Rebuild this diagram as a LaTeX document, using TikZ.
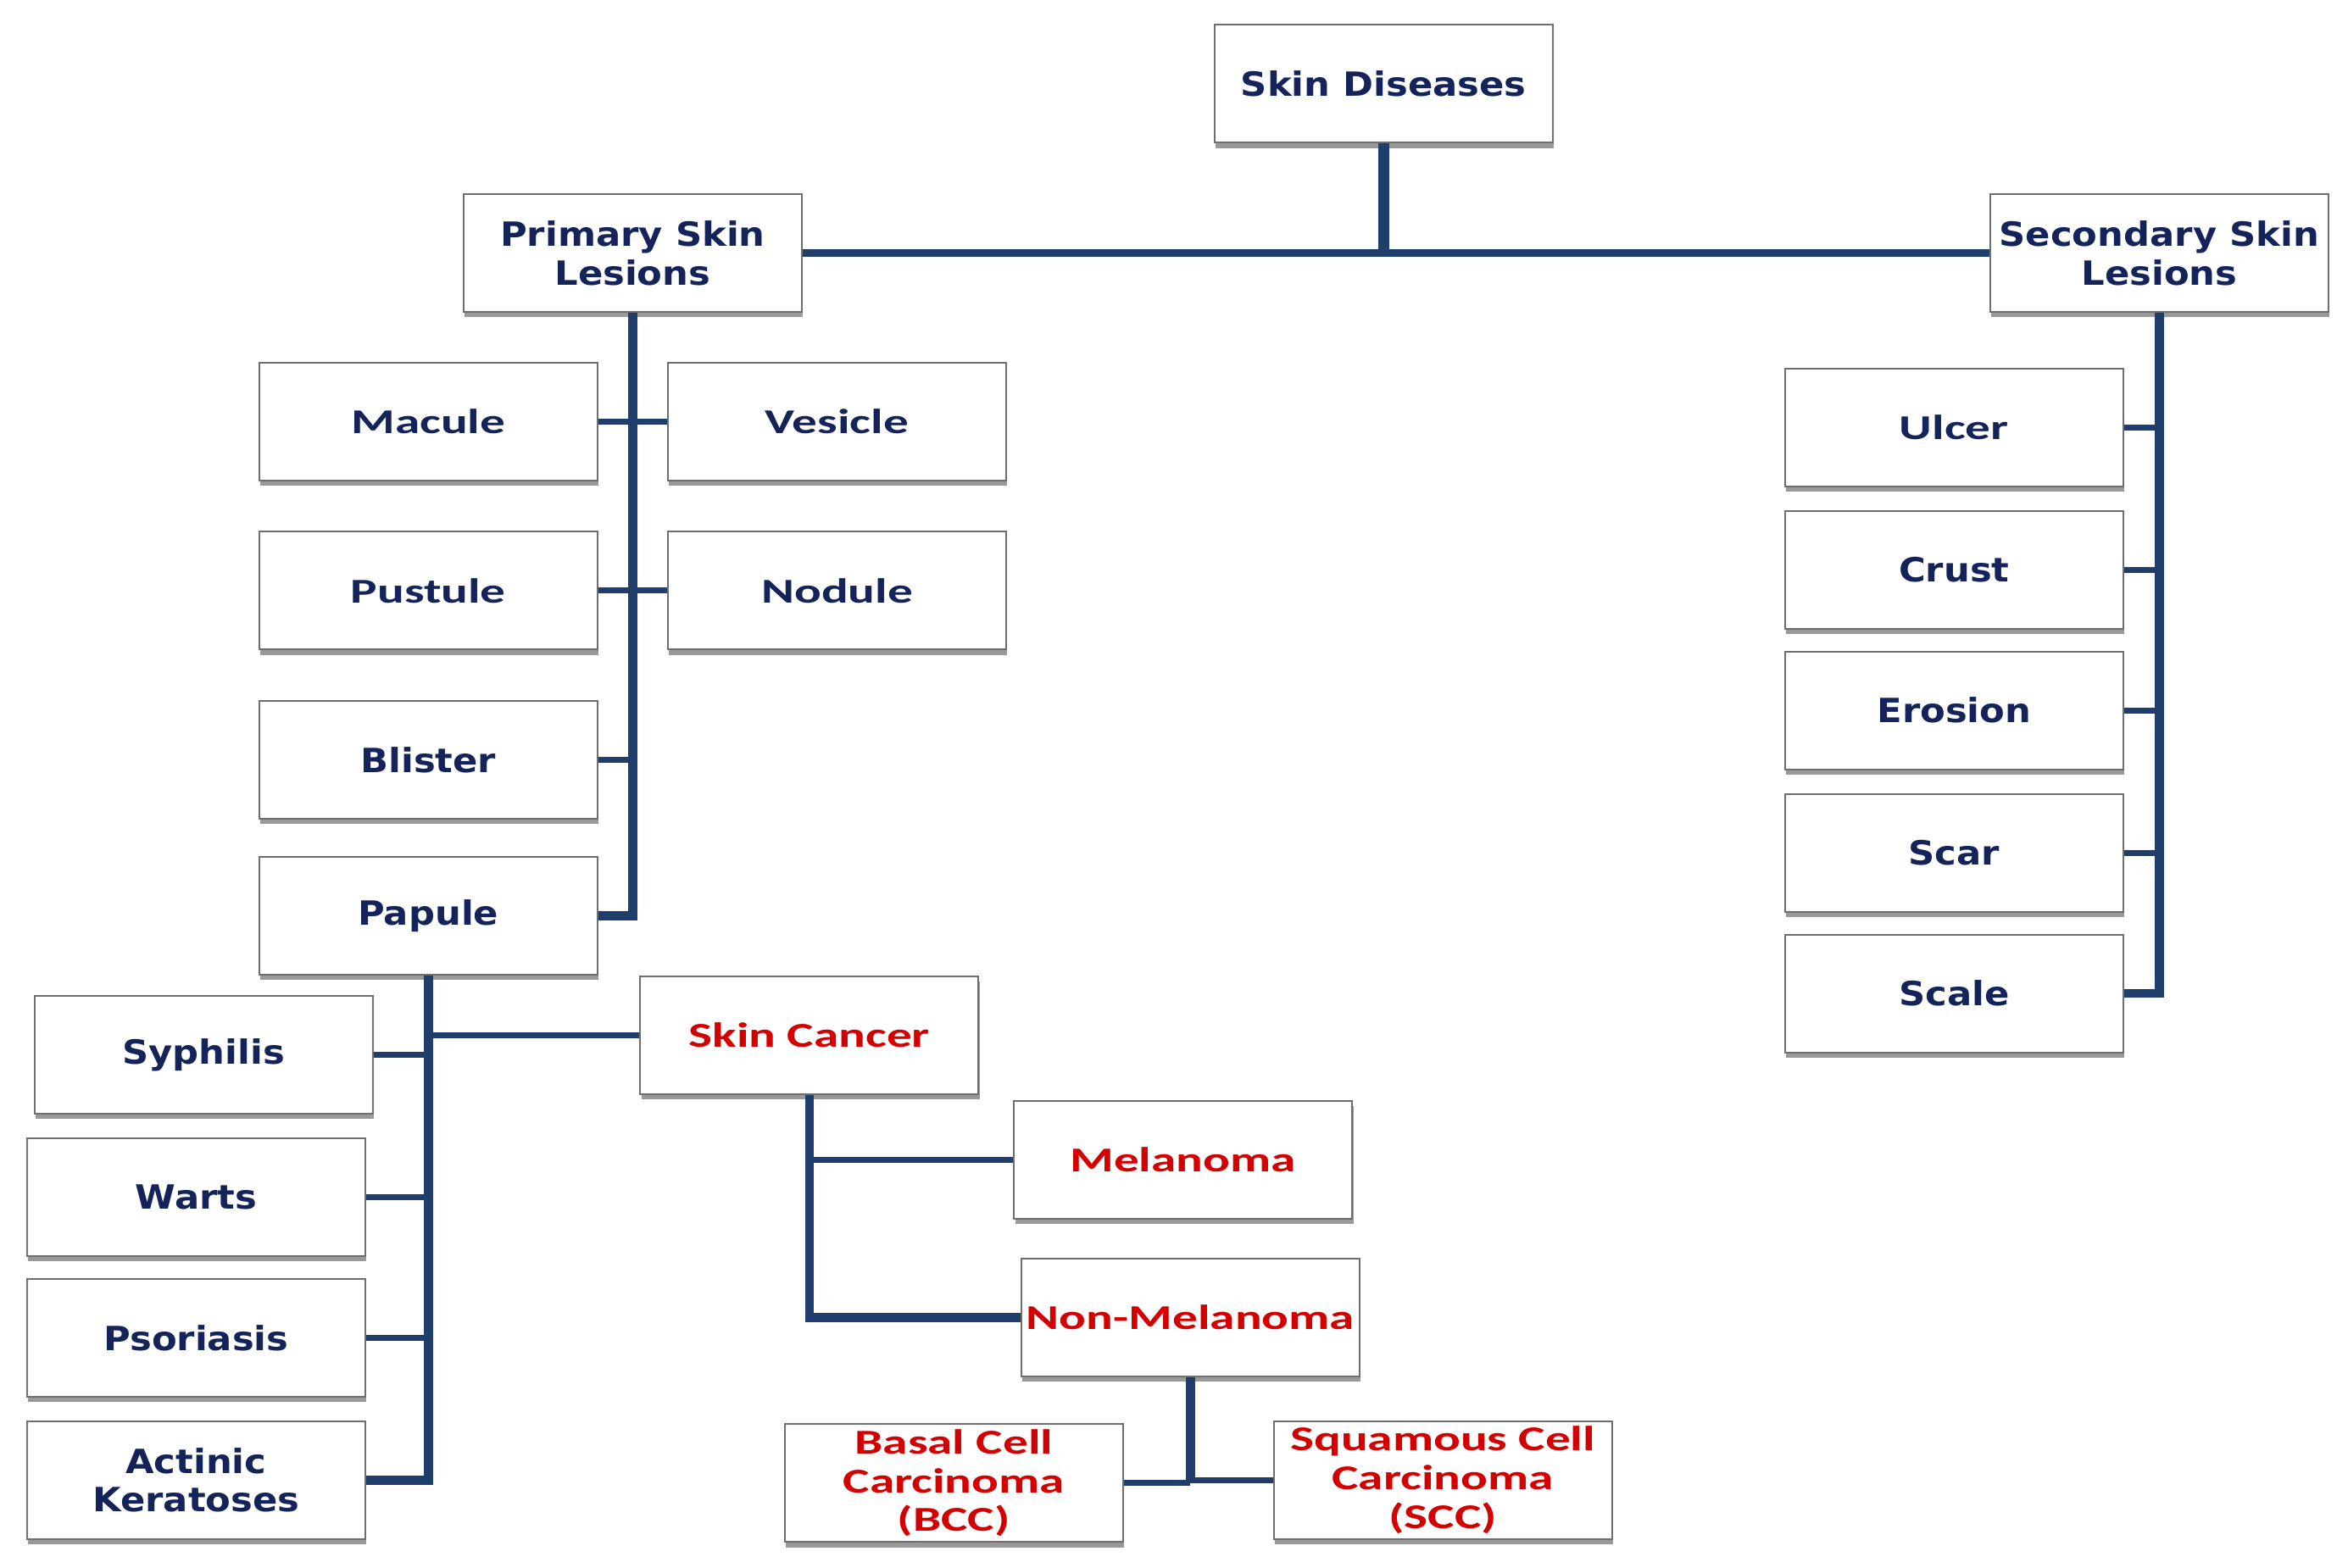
\documentclass[tikz,border=0pt]{standalone}
\usepackage{fontspec}
\usetikzlibrary{shadows}
\newfontfamily\vfont[FakeStretch=1.1]{DejaVu Sans}
\newfontfamily\cfont[FakeStretch=1.44]{Carlito}
\definecolor{navy}{HTML}{14245A}
\definecolor{redtxt}{HTML}{D40000}
\definecolor{linec}{HTML}{1F3E6C}
\definecolor{bord}{HTML}{6E6E6E}
\tikzset{
  box/.style={draw=bord, line width=0.6pt, fill=white, minimum width=39.9mm, minimum height=13.9mm,
    inner sep=0pt, align=center,
    drop shadow={shadow xshift=0.4pt, shadow yshift=-1.8pt, opacity=0.4, fill=black}},
  vbox/.style={box, text=navy, font=\vfont\bfseries\fontsize{11.2}{13}\selectfont},
  cbox/.style={box, text=navy, font=\cfont\bfseries\fontsize{11.7}{13}\selectfont},
  rbox/.style={box, text=redtxt, font=\cfont\bfseries\fontsize{11.7}{13}\selectfont},
  trunk/.style={draw=linec, line width=3pt},
  twig/.style={draw=linec, line width=2pt},
}
\begin{document}
\begin{tikzpicture}[x=0.17666mm, y=-0.17666mm]
\useasboundingbox[fill=white] (0,0) rectangle (1568,1047);
% nodes
\node[vbox] (sd)  at (924,56) {Skin Diseases};
\node[vbox] (psl) at (422.5,169) {Primary Skin\\Lesions};
\node[vbox] (ssl) at (1442,169) {Secondary Skin\\Lesions};
\node[cbox] (mac) at (286,281.5) {Macule};
\node[cbox] (ves) at (559,281.5) {Vesicle};
\node[cbox] (pus) at (286,394.5) {Pustule};
\node[cbox] (nod) at (559,394.5) {Nodule};
\node[vbox] (bli) at (286,507.5) {Blister};
\node[vbox] (pap) at (286,611.5) {Papule};
\node[vbox] (syp) at (136,704.5) {Syphilis};
\node[vbox] (war) at (131,799.5) {Warts};
\node[vbox] (pso) at (131,893.5) {Psoriasis};
\node[vbox] (act) at (131,988.5) {Actinic\\Keratoses};
\node[rbox] (sc)  at (540.5,691.5) {Skin Cancer};
\node[rbox] (mel) at (790,774.5) {Melanoma};
\node[rbox] (nm)  at (795,880) {Non-Melanoma};
\node[rbox] (bcc) at (637,990.5) {Basal Cell\\Carcinoma\\(BCC)};
\node[rbox] (scc) at (963.5,988.5) {Squamous Cell\\Carcinoma\\(SCC)};
\node[cbox] (ulc) at (1305,285.5) {Ulcer};
\node[vbox] (cru) at (1305,380.5) {Crust};
\node[vbox] (ero) at (1305,474.5) {Erosion};
\node[vbox] (sca) at (1305,569.5) {Scar};
\node[vbox] (scl) at (1305,663.5) {Scale};
% top level
\draw[draw=linec, line width=3.7pt] (sd.south) -- (sd.south |- psl.east);
\draw[twig, line width=2.4pt] (psl.east) -- (ssl.west);
% primary
\draw[trunk] (psl.south) -- (psl.south |- pap.east) -- (pap.east);
\draw[twig] (mac.east) -- (ves.west);
\draw[twig] (pus.east) -- (nod.west);
\draw[twig] (bli.east) -- (psl.south |- bli.east);
% papule
\draw[trunk] (pap.south) -- (pap.south |- act.east) -- (act.east);
\draw[twig] (syp.east) -- (pap.south |- syp.east);
\draw[twig] (war.east) -- (pap.south |- war.east);
\draw[twig] (pso.east) -- (pap.south |- pso.east);
\draw[twig] (pap.south |- sc.west) -- (sc.west);
% skin cancer
\draw[trunk] (sc.south) -- (sc.south |- nm.west) -- (nm.west);
\draw[twig] (sc.south |- mel.west) -- (mel.west);
% non-melanoma
\draw[trunk] (nm.south) -- (nm.south |- scc.west);
\draw[twig] (bcc.east) -- (nm.south |- bcc.east);
\draw[twig] (nm.south |- scc.west) -- (scc.west);
% secondary
\draw[trunk] (ssl.south) -- (ssl.south |- scl.east) -- (scl.east);
\draw[twig] (ulc.east) -- (ssl.south |- ulc.east);
\draw[twig] (cru.east) -- (ssl.south |- cru.east);
\draw[twig] (ero.east) -- (ssl.south |- ero.east);
\draw[twig] (sca.east) -- (ssl.south |- sca.east);
\end{tikzpicture}
\end{document}
